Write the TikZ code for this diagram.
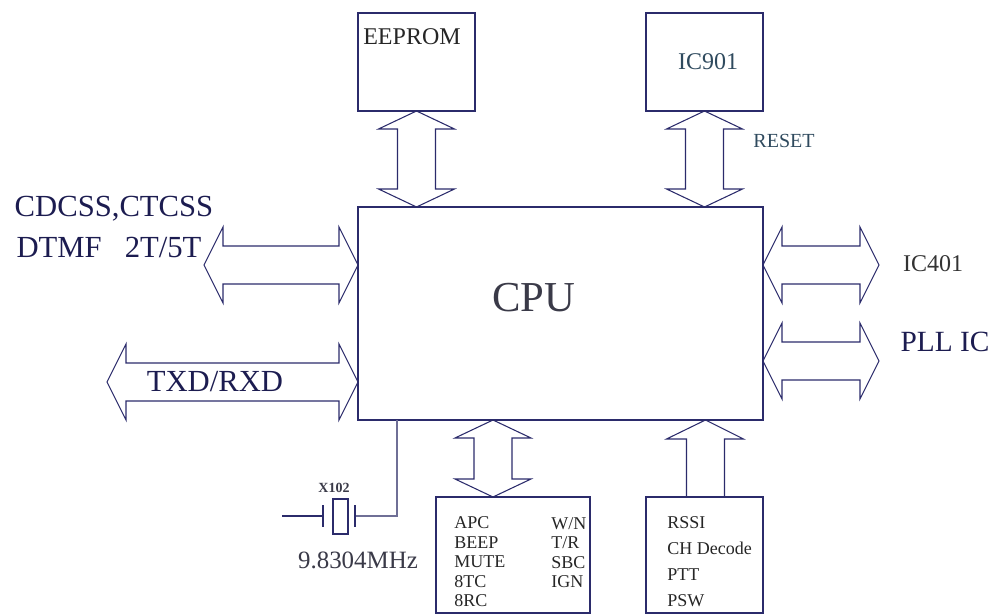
\documentclass[tikz,border=0pt]{standalone}
\usepackage{fontspec}
\setmainfont{Liberation Serif}
\usetikzlibrary{calc, positioning}

\definecolor{linenavy}{HTML}{2B2B6B}
\definecolor{wiregray}{HTML}{6F6F96}
\definecolor{textnavy}{HTML}{1C1C50}
\definecolor{textteal}{HTML}{2F4A5E}
\definecolor{textgray}{HTML}{3A3A48}

\tikzset{
	block/.style={draw=linenavy, line width=0.9pt, inner sep=0pt, outer sep=0pt},
	bus/.style={draw=linenavy, line width=0.8pt, line join=miter},
	wire/.style={draw=linenavy, line width=0.9pt},
	lbl/.style={inner sep=0pt, text=textnavy},
	biglbl/.style={lbl, font=\fontsize{23}{27}\selectfont},
	midlbl/.style={lbl, font=\fontsize{18}{21}\selectfont, text=black!80},
	listlbl/.style={lbl, align=left, anchor=west, text=black!85}
}

\newcommand{\hbus}[2]{
	\draw[bus] (#1) -- ++(19,-38) -- ++(0,19) -- ($(#2)+(-19,-19)$) -- ++(0,-19) -- (#2)
		-- ++(-19,38) -- ++(0,-19) -- ($(#1)+(19,19)$) -- ++(0,19) -- cycle;
}
\newcommand{\vbus}[2]{
	\draw[bus] (#1) -- ++(38,18) -- ++(-19,0) -- ($(#2)+(19,-18)$) -- ++(19,0) -- (#2)
		-- ++(-38,-18) -- ++(19,0) -- ($(#1)+(-19,18)$) -- ++(-19,0) -- cycle;
}

\begin{document}
\begin{tikzpicture}[x=0.75pt, y=-0.75pt]
	\useasboundingbox (0,0) rectangle (995,616);

	\node[block, minimum width=303.75pt, minimum height=159.75pt] (cpu) at (560.5,313.5) {};
	\node[block, minimum width=87.75pt, minimum height=73.5pt, above=72pt of cpu.north west, anchor=south west] (eeprom) {};
	\node[block, minimum width=87.75pt, minimum height=73.5pt, above=72pt of cpu.north east, anchor=south east] (icreset) {};
	\node[block, minimum width=115.5pt, minimum height=87pt, below=57.75pt of cpu.south west, anchor=north west, xshift=58.5pt] (audio) {};
	\node[block, minimum width=87.75pt, minimum height=87pt, below=57.75pt of cpu.south east, anchor=north east] (sense) {};
	\node[block, minimum width=11.25pt, minimum height=26.25pt] (xtal) at (340.5,516.5) {};

	\coordinate (cpuCdcss) at (cpu.west |- 0,265);
	\coordinate (cpuTxd) at (cpu.west |- 0,382);
	\coordinate (cpuIcb) at (cpu.east |- 0,265);
	\coordinate (cpuPll) at (cpu.east |- 0,361);
	\coordinate (cdcssEnd) at (204,265);
	\coordinate (txdEnd) at (107,382);
	\coordinate (icbEnd) at (879,265);
	\coordinate (pllEnd) at (879,361);
	\coordinate (audioTop) at ($(audio.north)+(-20,0)$);
	\coordinate (cpuAudio) at (audioTop |- cpu.south);
	\coordinate (senseLeft) at ($(sense.north)+(-18,0)$);
	\coordinate (senseRight) at ($(sense.north)+(20,0)$);
	\coordinate (cpuSense) at ($(sense.north |- cpu.south)+(1,0)$);
	\coordinate (cpuXtal) at (397,420);
	\coordinate (plateRight) at (355,516);
	\coordinate (plateLeft) at (323,516);
	\coordinate (xtalIn) at (282,516);

	\vbus{eeprom.south}{eeprom.south |- cpu.north}
	\vbus{icreset.south}{icreset.south |- cpu.north}
	\vbus{cpuAudio}{audioTop}
	\hbus{cdcssEnd}{cpuCdcss}
	\hbus{txdEnd}{cpuTxd}
	\hbus{cpuIcb}{icbEnd}
	\hbus{cpuPll}{pllEnd}
	\draw[bus] (senseLeft) -- ++(0,-58) -- ++(-20,0) -- (cpuSense) -- ++(38,19) -- ++(-19,0) -- (senseRight);

	\draw[wire, draw=wiregray] (cpuXtal) |- (plateRight);
	\draw[wire] (xtalIn) -- (plateLeft);
	\draw[wire] ($(plateRight)+(0,-11)$) -- ($(plateRight)+(0,11)$);
	\draw[wire] ($(plateLeft)+(0,-11)$) -- ($(plateLeft)+(0,11)$);

	\node[lbl, font=\fontsize{32}{36}\selectfont, text=textgray] (cpuText) at (534,298) {CPU};
	\node[lbl, font=\fontsize{18}{21}\selectfont, text=black!85] (eepromText) at (412,37) {EEPROM};
	\node[lbl, font=\fontsize{18}{21}\selectfont, text=textteal] (icresetText) at (708,62) {IC901};
	\node[lbl, font=\fontsize{15}{18}\selectfont, text=textteal] (resetText) at (784,141) {RESET};
	\node[biglbl] (cdcssText) at (114,209) {CDCSS,CTCSS};
	\node[biglbl] (dtmfText) at (109,247) {DTMF\ \ \ 2T/5T};
	\node[biglbl] (txdText) at (215,382) {TXD/RXD};
	\node[midlbl] (ic401Text) at (933,264) {IC401};
	\node[biglbl, font=\fontsize{22}{26}\selectfont] (pllText) at (945,342) {PLL IC};
	\node[lbl, font=\bfseries\fontsize{10.5}{12}\selectfont, text=textgray] (xtalName) at (334,488) {X102};
	\node[lbl, font=\fontsize{18.7}{22}\selectfont, text=textgray] (xtalText) at (358,560) {9.8304MHz};

	\node[listlbl, font=\fontsize{13.5}{14.6}\selectfont] (audioLeft) at (454,562) {APC \\ BEEP \\ MUTE \\ 8TC \\ 8RC};
	\node[listlbl, font=\fontsize{13.5}{14.6}\selectfont] (audioRight) at (551,552.5) {W/N \\ T/R \\ SBC \\ IGN};
	\node[listlbl, font=\fontsize{13.5}{19.5}\selectfont] (senseText) at (667,562) {RSSI \\ CH Decode \\ PTT \\ PSW};
\end{tikzpicture}
\end{document}
